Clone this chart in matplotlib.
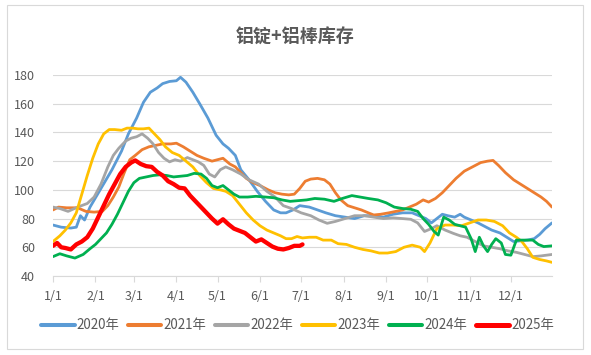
import matplotlib
matplotlib.use('Agg')
import matplotlib.pyplot as plt
from matplotlib.patches import Rectangle

plt.rcParams['font.family'] = ['Noto Sans CJK SC', 'DejaVu Sans']

title = "铝锭+铝棒库存"
month_labels = ["1/1", "2/1", "3/1", "4/1", "5/1", "6/1", "7/1", "8/1", "9/1", "10/1", "11/1", "12/1"]
month_days = [0, 31, 59, 90, 120, 151, 181, 212, 243, 273, 304, 334]
y_ticks = [40, 60, 80, 100, 120, 140, 160, 180]

# day of year -> stock (万吨)
d2020 = [0, 6, 13, 17, 20, 23, 27, 35, 43, 50, 55, 61, 66, 71, 76, 80, 85, 90, 93, 97, 102, 107, 113, 119, 124,
         128, 133, 137, 143, 149, 155, 161, 166, 170, 175, 180, 187, 193, 199, 206, 213, 220, 227, 234, 241, 248,
         255, 262, 267, 272, 276, 280, 284, 288, 293, 297, 300, 305, 310, 315, 320, 326, 331, 336, 341, 346, 351,
         355, 359, 364]
v2020 = [75.5, 74, 73.4, 74, 82, 79, 88, 101, 114, 127, 139, 150, 161, 168, 171, 174, 175.5, 176, 178.4, 175, 168,
         160, 150, 138, 132, 129, 124, 114, 107, 99, 92, 86, 84, 84, 86, 89, 88, 86, 84, 82, 81, 80, 82, 82, 81, 83,
         84, 84, 82, 80, 77, 80, 83, 82, 81, 83, 81, 79, 77, 74.5, 72, 70, 67, 64, 64.5, 65, 66, 69, 73, 77]

d2021 = [0, 4, 10, 18, 24, 30, 36, 40, 44, 48, 52, 56, 60, 65, 70, 75, 80, 86, 90, 95, 100, 105, 110, 116, 120, 124,
         129, 133, 137, 141, 146, 151, 157, 162, 167, 172, 176, 180, 184, 188, 193, 198, 202, 206, 210, 215, 220, 225,
         230, 234, 239, 245, 250, 255, 260, 265, 270, 274, 279, 284, 289, 294, 300, 306, 312, 317, 321, 325, 330, 336,
         341, 346, 351, 356, 360, 364]
v2021 = [86, 88, 87.5, 87.5, 85, 84.5, 85, 89, 95, 102, 112, 121, 124, 128, 130, 131, 132, 132, 132.5, 130, 127, 124,
         122, 120, 121, 122, 118, 116, 112, 108, 105, 103, 100, 98, 97, 96.5, 97, 101, 106, 107.5, 108, 107, 104, 98,
         93, 89, 87.5, 86, 84, 82.5, 83, 84, 85, 86, 88, 90, 93, 91.5, 94, 98, 103, 108, 113, 116, 119, 120, 120.5,
         117, 112, 107, 104, 101, 98, 95, 92, 88]

d2022 = [0, 5, 11, 18, 25, 30, 35, 40, 44, 48, 53, 57, 61, 65, 69, 73, 77, 81, 85, 89, 93, 98, 102, 106, 110, 114,
         118, 122, 126, 131, 137, 143, 150, 156, 162, 168, 174, 181, 188, 194, 200, 206, 213, 220, 227, 234, 241,
         248, 255, 261, 266, 271, 276, 280, 286, 292, 297, 302, 308, 314, 320, 326, 332, 338, 344, 350, 356, 364]
v2022 = [88, 87, 85, 88, 90.5, 95, 104, 116, 124, 129, 134, 136, 137, 139, 136, 132, 126, 122, 119.5, 121, 120, 122.5,
         121, 119.5, 117, 111, 109, 114, 116, 114, 111, 107, 104, 99, 95, 89, 87, 84, 82, 79, 76.7, 78, 80, 82, 82, 81,
         80, 80.5, 80, 79.5, 77, 71, 73, 75, 72, 69.7, 68, 67, 64, 61, 60, 59, 57.5, 56.5, 55, 53.5, 54, 55]

d2023 = [0, 5, 9, 13, 17, 21, 25, 29, 33, 37, 41, 45, 50, 54, 58, 62, 66, 70, 74, 78, 82, 87, 92, 97, 102, 107, 112,
         117, 122, 126, 131, 136, 141, 146, 151, 156, 161, 166, 170, 174, 178, 182, 187, 192, 197, 203, 208, 214, 220,
         226, 232, 238, 244, 250, 256, 262, 268, 271, 275, 280, 286, 292, 298, 304, 310, 316, 322, 328, 333, 338, 342,
         346, 350, 355, 360, 364]
v2023 = [64, 68, 72, 77, 84, 97, 110, 122, 132, 139, 142, 142, 141.5, 143, 143, 142.5, 142.5, 143, 139, 135, 130, 126,
         124, 120, 116, 110, 105, 101, 100, 99, 96, 90, 84, 79, 75, 72, 70, 68, 66, 66, 67.5, 66.5, 67, 67, 65, 65,
         62.5, 62, 60, 58.5, 57.5, 56, 56, 57, 60, 61.5, 60, 57, 63, 73, 75.5, 75.5, 75, 77, 79, 79, 78, 75, 70, 67,
         64, 59, 53, 51.5, 50.5, 49.5]

d2024 = [0, 5, 10, 16, 22, 27, 31, 35, 39, 43, 47, 51, 55, 59, 63, 68, 73, 78, 83, 88, 93, 98, 103, 108, 112, 116, 120,
         124, 128, 132, 136, 142, 148, 155, 161, 167, 173, 179, 185, 191, 198, 205, 211, 218, 224, 230, 237, 243, 249,
         255, 261, 266, 270, 274, 278, 281, 285, 289, 293, 297, 301, 305, 308, 311, 314, 317, 320, 323, 327, 330, 334,
         338, 342, 346, 350, 354, 358, 364]
v2024 = [53.5, 55.5, 54, 52.5, 55, 59, 62, 66, 70, 76, 83, 91, 99, 105, 108, 109, 110, 110.5, 110, 109, 109.5, 110,
         111.5, 111, 108, 103, 101.5, 103, 100, 97, 95, 95, 95.5, 95, 94.5, 93, 92, 92.5, 93, 94, 93.5, 92, 94, 96, 95,
         94, 93, 91, 88, 87, 86.5, 85, 80, 76, 71, 68.5, 81, 79, 76, 75, 74, 66, 57, 67, 61, 57, 62, 66, 63, 55, 54.5,
         65, 65, 65, 65, 62, 60.5, 61]

d2025 = [0, 3, 6, 9, 13, 17, 21, 25, 29, 33, 37, 41, 45, 49, 53, 57, 60, 64, 68, 72, 76, 80, 84, 88, 92, 96, 100, 104,
         108, 112, 116, 120, 124, 128, 132, 136, 140, 144, 148, 152, 156, 160, 164, 168, 172, 176, 180, 182]
v2025 = [61, 63, 60, 59.5, 58.5, 62, 64, 67, 73, 81, 89, 97, 104, 111, 116, 119, 120.5, 118, 116.5, 116, 112.5, 110,
         106, 104, 101.5, 101, 96, 92, 88, 84, 80, 76.5, 79.5, 76, 73, 71.5, 70, 67, 64, 65.5, 63, 60.5, 59, 58.5,
         59.5, 61, 61, 62]

fig = plt.figure(figsize=(5.91, 3.55), dpi=100)
fig.patches.append(Rectangle((7 / 591, 6 / 355), 576 / 591, 344 / 355, transform=fig.transFigure,
                             fill=False, edgecolor='#D9D9D9', linewidth=0.8))
ax = fig.add_axes([53 / 591, 79 / 355, 499 / 591, 201 / 355])

kw = dict(solid_capstyle='round', solid_joinstyle='round')
ax.plot(d2020, v2020, color='#5B9BD5', linewidth=2.0, label='2020年', **kw)
ax.plot(d2021, v2021, color='#ED7D31', linewidth=2.0, label='2021年', **kw)
ax.plot(d2022, v2022, color='#A5A5A5', linewidth=2.0, label='2022年', **kw)
ax.plot(d2023, v2023, color='#FFC000', linewidth=2.0, label='2023年', **kw)
ax.plot(d2024, v2024, color='#00B050', linewidth=2.0, label='2024年', **kw)
ax.plot(d2025, v2025, color='#FF0000', linewidth=3.1, label='2025年', **kw)

ax.set_xlim(0, 364)
ax.set_ylim(40, 180)
ax.set_yticks(y_ticks)
ax.set_xticks(month_days)
ax.set_xticklabels(month_labels)
ax.grid(axis='y', color='#D9D9D9', linewidth=0.8)
ax.set_axisbelow(True)
for s in ['top', 'right', 'left']:
    ax.spines[s].set_visible(False)
ax.spines['bottom'].set_color('#D9D9D9')
ax.tick_params(axis='y', length=0, pad=13, labelsize=9, labelcolor='#595959')
ax.tick_params(axis='x', length=4, color='#D9D9D9', pad=6, labelsize=9, labelcolor='#595959')

fig.text(0.5, 1 - 37 / 355, title, ha='center', va='center', fontsize=13, fontweight='bold', color='#595959')

leg = ax.legend(loc='center', bbox_to_anchor=(0.49, -0.245), ncol=6, frameon=False, fontsize=9.6,
                handlelength=2.5, handletextpad=0.15, columnspacing=0.65, labelcolor='#595959')
for i, h in enumerate(leg.get_lines()):
    h.set_linewidth(3.6 if i == 5 else 2.9)

fig.savefig('out.png', dpi=100)
